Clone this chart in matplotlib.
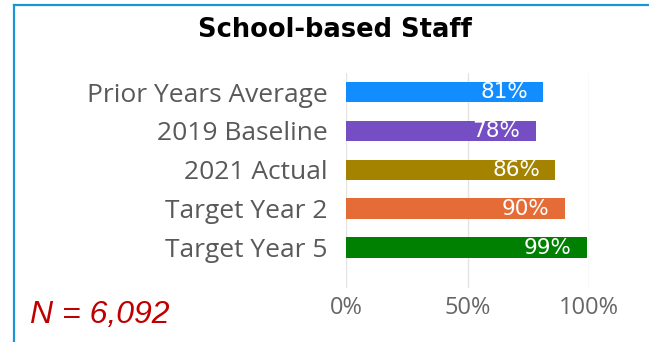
import matplotlib.pyplot as plt
from matplotlib.lines import Line2D

# chart data
categories = ['Prior Years Average', '2019 Baseline', '2021 Actual', 'Target Year 2', 'Target Year 5']
values = [81, 78, 86, 90, 99]
colors = ['#118DFF', '#744EC2', '#A38300', '#E66C37', '#008000']
x_ticks = [0, 50, 100]
x_tick_labels = ['0%', '50%', '100%']
title = 'School-based Staff'
n_note = 'N = 6,092'

W, H = 649, 342
fig = plt.figure(figsize=(W / 100, H / 100), dpi=100)

# axes placement in pixels
left, right, top, bottom = 346, 589.3, 73, 288
ax = fig.add_axes([left / W, 1 - bottom / H, (right - left) / W, (bottom - top) / H])

y = list(range(len(categories)))
ax.barh(y, values, height=0.53, color=colors, zorder=3)
ax.set_xlim(0, 100)
ax.set_ylim(5.04, -0.49)

ax.set_yticks(y)
ax.set_yticklabels(categories, fontsize=19, color='#595959', family='Open Sans')
ax.set_xticks(x_ticks)
ax.set_xticklabels(x_tick_labels, fontsize=17, color='#666666', family='Open Sans')
ax.tick_params(axis='y', length=0, pad=13)
ax.tick_params(axis='x', length=0, pad=6)
ax.grid(axis='x', color='#E3E3E3', lw=1, zorder=0)
for s in ax.spines.values():
    s.set_visible(False)

# value labels inside bar ends
for yi, v in zip(y, values):
    ax.annotate(f'{v}%', xy=(v, yi), xytext=(-11, 0), textcoords='offset points',
                ha='right', va='center', color='white', fontsize=15.5, zorder=4)

fig.text(335 / W, 1 - 30 / H, title, ha='center', va='center',
         fontsize=18.5, fontweight='bold', color='black')
fig.text(30 / W, 1 - 315 / H, n_note, ha='left', va='center',
         fontsize=23, style='italic', color='#C00000', family='Liberation Sans')

# blue frame on top and left
bx, by = 13.5 / W, 1 - 4.5 / H
fig.add_artist(Line2D([bx, bx], [0, by], transform=fig.transFigure, color='#1B95D3', lw=1.6))
fig.add_artist(Line2D([bx, 1], [by, by], transform=fig.transFigure, color='#1B95D3', lw=1.6))

fig.savefig('out.png', dpi=100)
